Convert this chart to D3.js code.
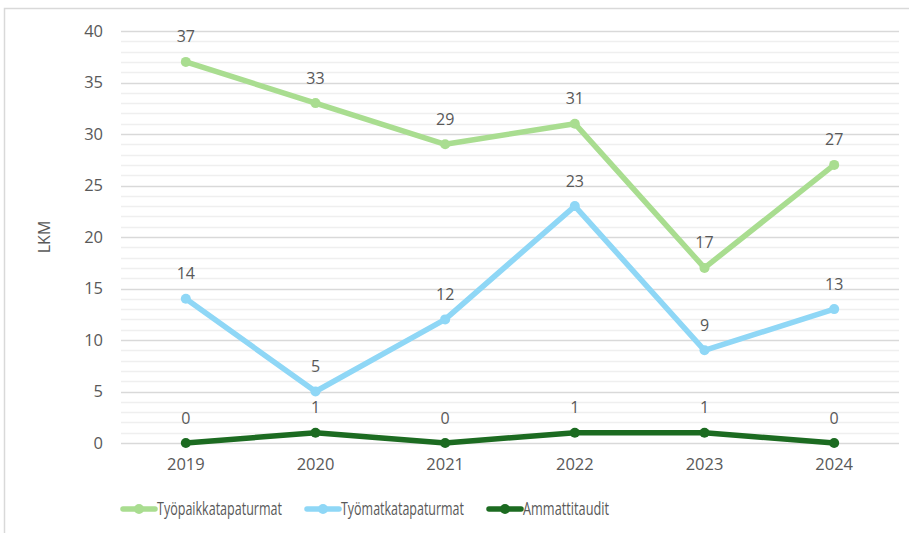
<!DOCTYPE html>
<html>
<head>
<meta charset="utf-8">
<script src="https://cdn.jsdelivr.net/npm/d3@7"></script>
<style>
  body { margin: 0; background: #fff; }
  text { font-family: "Open Sans", sans-serif; fill: #595959; }
</style>
</head>
<body>
<div id="chart"></div>
<script>
const years = ["2019", "2020", "2021", "2022", "2023", "2024"];
const seriesNames = ["Työpaikkatapaturmat", "Työmatkatapaturmat", "Ammattitaudit"];
const tyopaikka = [37, 33, 29, 31, 17, 27];
const tyomatka = [14, 5, 12, 23, 9, 13];
const ammatti = [0, 1, 0, 1, 1, 0];
const yTicks = [0, 5, 10, 15, 20, 25, 30, 35, 40];
const colors = ["#a9dd90", "#8fd7f6", "#1c6b21"];

const width = 909, height = 533;

const svg = d3.select("#chart")
  .append("svg")
    .attr("width", width)
    .attr("height", height);

// outer frame (only left and top edges visible)
svg.append("rect")
  .attr("x", 4.5).attr("y", 8.5)
  .attr("width", 1000).attr("height", 1000)
  .attr("fill", "none")
  .attr("stroke", "#d9d9d9")
  .attr("stroke-width", 1.5);

const x = d3.scaleBand()
  .domain(years)
  .range([121, 899]);

const y = d3.scaleLinear()
  .domain([0, 40])
  .range([443, 31]);

// minor gridlines
svg.append("g")
  .selectAll("line")
  .data(d3.range(0, 41).filter(v => v % 5 !== 0))
  .enter()
  .append("line")
    .attr("x1", 121).attr("x2", 899)
    .attr("y1", d => Math.round(y(d)) + 0.5)
    .attr("y2", d => Math.round(y(d)) + 0.5)
    .attr("stroke", "#efefef")
    .attr("stroke-width", 1.5);

// major gridlines
svg.append("g")
  .selectAll("line")
  .data(yTicks)
  .enter()
  .append("line")
    .attr("x1", 121).attr("x2", 899)
    .attr("y1", d => Math.round(y(d)) + 0.5)
    .attr("y2", d => Math.round(y(d)) + 0.5)
    .attr("stroke", "#d9d9d9")
    .attr("stroke-width", 1.5);

// y axis labels
const yAxis = svg.append("g")
  .attr("transform", "translate(121,0)")
  .call(d3.axisLeft(y).tickValues(yTicks).tickSize(0).tickPadding(18));
yAxis.select(".domain").remove();
yAxis.selectAll("text")
  .style("font-size", "16.5px")
  .attr("fill", "#595959");

// x axis labels
const xAxis = svg.append("g")
  .attr("transform", "translate(0,443)")
  .call(d3.axisBottom(x).tickSize(0).tickPadding(15));
xAxis.select(".domain").remove();
xAxis.selectAll("text")
  .style("font-size", "16.5px")
  .attr("fill", "#595959");

svg.append("text")
  .attr("transform", "translate(50,237) rotate(-90)")
  .attr("text-anchor", "middle")
  .style("font-size", "16px")
  .text("LKM");

const allSeries = [tyopaikka, tyomatka, ammatti];
const line = d3.line()
  .x((d, i) => x(years[i]) + x.bandwidth() / 2)
  .y(d => y(d));

allSeries.forEach((vals, s) => {
  const g = svg.append("g");
  g.append("path")
    .datum(vals)
    .attr("d", line)
    .attr("fill", "none")
    .attr("stroke", colors[s])
    .attr("stroke-width", 5.5)
    .attr("stroke-linejoin", "round")
    .attr("stroke-linecap", "round");
  g.selectAll("circle")
    .data(vals)
    .enter()
    .append("circle")
      .attr("cx", (d, i) => x(years[i]) + x.bandwidth() / 2)
      .attr("cy", d => y(d))
      .attr("r", 5)
      .attr("fill", colors[s]);
  g.selectAll("text")
    .data(vals)
    .enter()
    .append("text")
      .attr("x", (d, i) => x(years[i]) + x.bandwidth() / 2)
      .attr("y", d => y(d) - 19.5)
      .attr("text-anchor", "middle")
      .style("font-size", "16px")
      .text(d => d);
});

// legend
const legendX = [123, 307, 489];
const legendW = [125, 123, 86];
const legend = svg.selectAll(".legend")
  .data(seriesNames)
  .enter()
  .append("g")
    .attr("class", "legend")
    .attr("transform", (d, i) => `translate(${legendX[i]}, 509)`);

legend.append("line")
  .attr("x1", 0).attr("x2", 32)
  .attr("y1", 0).attr("y2", 0)
  .attr("stroke", (d, i) => colors[i])
  .attr("stroke-width", 5.5)
  .attr("stroke-linecap", "round");

legend.append("circle")
  .attr("cx", 16).attr("cy", 0)
  .attr("r", 5)
  .attr("fill", (d, i) => colors[i]);

legend.append("text")
  .attr("x", 34)
  .attr("y", 6)
  .attr("textLength", (d, i) => legendW[i])
  .attr("lengthAdjust", "spacingAndGlyphs")
  .style("font-size", "17.5px")
  .text(d => d);
</script>
</body>
</html>
